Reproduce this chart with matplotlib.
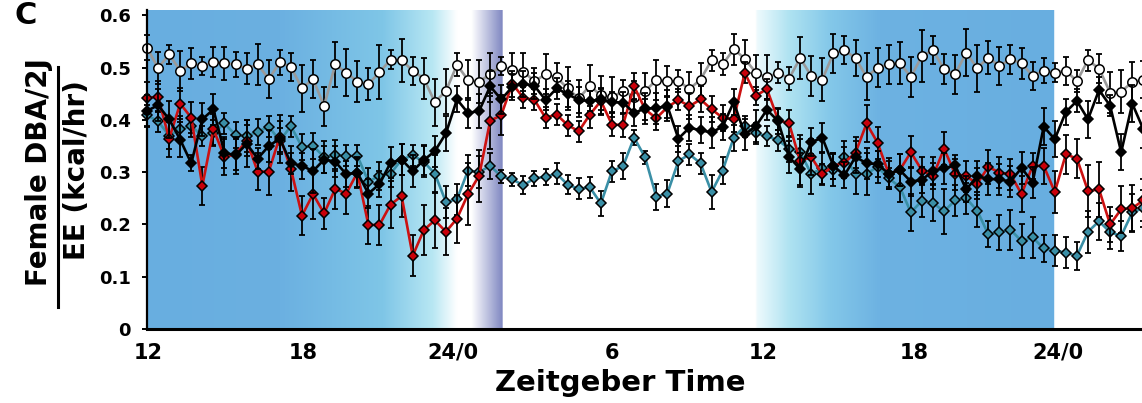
import numpy as np
import matplotlib.pyplot as plt
from matplotlib.colors import to_rgb
from matplotlib.lines import Line2D

plt.rcParams['font.family'] = ['DejaVu Sans']
plt.rcParams['font.weight'] = 'bold'

# mean EE per bin (kcal/hr) and SEM, one entry per time bin
white_mean = [0.538, 0.499, 0.525, 0.494, 0.508, 0.503, 0.510, 0.508, 0.506, 0.498, 0.506, 0.478, 0.510, 0.501, 0.460,
              0.478, 0.426, 0.506, 0.490, 0.473, 0.468, 0.491, 0.515, 0.514, 0.494, 0.479, 0.434, 0.455, 0.505, 0.476,
              0.473, 0.487, 0.503, 0.495, 0.492, 0.474, 0.487, 0.481, 0.460, 0.441, 0.465, 0.447, 0.443, 0.455,
              0.444, 0.455, 0.476, 0.474, 0.474, 0.459, 0.477, 0.514, 0.506, 0.535, 0.517, 0.490, 0.481, 0.490, 0.479,
              0.518, 0.484, 0.477, 0.527, 0.533, 0.518, 0.482, 0.500, 0.506, 0.509, 0.482, 0.522, 0.533, 0.497,
              0.487, 0.528, 0.499, 0.519, 0.503, 0.516, 0.508, 0.484, 0.494, 0.490, 0.494, 0.474, 0.514, 0.498,
              0.452, 0.454, 0.472, 0.477]
white_sem = [0.024, 0.031, 0.019, 0.038, 0.029, 0.018, 0.029, 0.031, 0.024, 0.029, 0.039, 0.036, 0.024, 0.026, 0.045,
             0.037, 0.037, 0.043, 0.045, 0.039, 0.031, 0.052, 0.018, 0.041, 0.027, 0.039, 0.045, 0.043, 0.022, 0.038,
             0.041, 0.041, 0.018, 0.033, 0.036, 0.025, 0.038, 0.027, 0.041, 0.035, 0.039, 0.037, 0.038, 0.022,
             0.030, 0.035, 0.039, 0.029, 0.021, 0.032, 0.031, 0.020, 0.021, 0.030, 0.035, 0.033, 0.043, 0.020, 0.022,
             0.040, 0.038, 0.041, 0.038, 0.027, 0.035, 0.045, 0.038, 0.037, 0.040, 0.039, 0.050, 0.027, 0.029,
             0.037, 0.045, 0.045, 0.031, 0.036, 0.028, 0.029, 0.027, 0.024, 0.018, 0.027, 0.021, 0.020, 0.027,
             0.039, 0.041, 0.038, 0.035]

black_mean = [0.417, 0.428, 0.401, 0.362, 0.317, 0.401, 0.420, 0.337, 0.332, 0.354, 0.326, 0.350, 0.364, 0.317, 0.312,
              0.302, 0.324, 0.320, 0.296, 0.299, 0.259, 0.277, 0.318, 0.324, 0.302, 0.323, 0.340, 0.374, 0.439, 0.413,
              0.417, 0.464, 0.439, 0.463, 0.469, 0.465, 0.438, 0.460, 0.449, 0.438, 0.436, 0.439, 0.434, 0.433,
              0.413, 0.422, 0.422, 0.427, 0.364, 0.385, 0.380, 0.376, 0.387, 0.434, 0.372, 0.388, 0.419, 0.398, 0.329,
              0.306, 0.357, 0.366, 0.312, 0.294, 0.329, 0.317, 0.315, 0.297, 0.304, 0.282, 0.285, 0.303, 0.307,
              0.313, 0.267, 0.292, 0.287, 0.286, 0.282, 0.308, 0.280, 0.387, 0.363, 0.415, 0.436, 0.401, 0.457,
              0.427, 0.338, 0.431, 0.382]
black_sem = [0.030, 0.030, 0.035, 0.033, 0.015, 0.032, 0.030, 0.030, 0.035, 0.045, 0.020, 0.030, 0.046, 0.020, 0.025,
             0.042, 0.025, 0.030, 0.025, 0.028, 0.027, 0.025, 0.030, 0.030, 0.030, 0.028, 0.030, 0.033, 0.025, 0.028,
             0.032, 0.030, 0.028, 0.025, 0.025, 0.025, 0.020, 0.020, 0.025, 0.025, 0.020, 0.020, 0.020, 0.020,
             0.025, 0.030, 0.030, 0.030, 0.025, 0.025, 0.025, 0.029, 0.025, 0.025, 0.030, 0.030, 0.020, 0.025, 0.030,
             0.030, 0.027, 0.027, 0.025, 0.025, 0.030, 0.030, 0.025, 0.030, 0.030, 0.028, 0.025, 0.025, 0.030,
             0.020, 0.025, 0.030, 0.030, 0.030, 0.030, 0.030, 0.030, 0.035, 0.035, 0.025, 0.022, 0.035, 0.025,
             0.020, 0.034, 0.035, 0.035]

red_mean = [0.442, 0.444, 0.364, 0.431, 0.404, 0.274, 0.382, 0.329, 0.334, 0.360, 0.301, 0.301, 0.368, 0.306, 0.217,
            0.258, 0.221, 0.268, 0.259, 0.299, 0.199, 0.199, 0.238, 0.254, 0.140, 0.189, 0.208, 0.186, 0.211, 0.258,
            0.293, 0.398, 0.409, 0.469, 0.442, 0.438, 0.404, 0.410, 0.390, 0.378, 0.410, 0.436, 0.391, 0.390,
            0.464, 0.420, 0.403, 0.424, 0.438, 0.426, 0.439, 0.420, 0.404, 0.401, 0.490, 0.446, 0.459, 0.400, 0.393,
            0.321, 0.329, 0.296, 0.312, 0.318, 0.337, 0.393, 0.356, 0.297, 0.304, 0.338, 0.303, 0.292, 0.345,
            0.296, 0.292, 0.278, 0.310, 0.299, 0.296, 0.258, 0.312, 0.312, 0.262, 0.334, 0.326, 0.264, 0.267,
            0.200, 0.229, 0.231, 0.246]
red_sem = [0.030, 0.030, 0.036, 0.030, 0.030, 0.036, 0.030, 0.035, 0.030, 0.030, 0.036, 0.044, 0.030, 0.043, 0.037,
           0.047, 0.030, 0.038, 0.039, 0.030, 0.037, 0.038, 0.045, 0.040, 0.039, 0.048, 0.053, 0.045, 0.046, 0.060,
           0.050, 0.053, 0.038, 0.025, 0.020, 0.020, 0.020, 0.020, 0.020, 0.020, 0.025, 0.025, 0.022, 0.022,
           0.025, 0.020, 0.023, 0.020, 0.020, 0.025, 0.025, 0.025, 0.025, 0.025, 0.020, 0.017, 0.020, 0.020, 0.025,
           0.050, 0.035, 0.020, 0.025, 0.030, 0.030, 0.035, 0.030, 0.025, 0.030, 0.031, 0.025, 0.025, 0.032,
           0.030, 0.030, 0.030, 0.032, 0.030, 0.030, 0.035, 0.025, 0.035, 0.040, 0.037, 0.038, 0.050, 0.053,
           0.034, 0.045, 0.045, 0.040]

teal_mean = [0.409, 0.397, 0.370, 0.382, 0.388, 0.369, 0.375, 0.393, 0.371, 0.369, 0.377, 0.387, 0.360, 0.388, 0.348,
             0.350, 0.329, 0.332, 0.331, 0.331, 0.282, 0.293, 0.297, 0.324, 0.332, 0.320, 0.297, 0.243, 0.248, 0.303,
             0.300, 0.312, 0.292, 0.286, 0.275, 0.288, 0.291, 0.297, 0.276, 0.268, 0.271, 0.240, 0.302, 0.311,
             0.366, 0.328, 0.253, 0.259, 0.321, 0.334, 0.317, 0.262, 0.303, 0.366, 0.388, 0.374, 0.369, 0.361, 0.345,
             0.338, 0.297, 0.307, 0.304, 0.329, 0.297, 0.297, 0.310, 0.288, 0.272, 0.223, 0.245, 0.241, 0.225,
             0.246, 0.250, 0.226, 0.181, 0.185, 0.190, 0.168, 0.175, 0.154, 0.150, 0.146, 0.140, 0.186, 0.206,
             0.185, 0.178, 0.223, 0.231]
teal_sem = [0.020, 0.020, 0.025, 0.025, 0.020, 0.020, 0.025, 0.020, 0.025, 0.030, 0.025, 0.020, 0.025, 0.020, 0.025,
            0.025, 0.030, 0.030, 0.020, 0.020, 0.025, 0.027, 0.025, 0.030, 0.020, 0.030, 0.035, 0.030, 0.030, 0.030,
            0.030, 0.025, 0.012, 0.012, 0.017, 0.015, 0.015, 0.020, 0.018, 0.020, 0.020, 0.023, 0.020, 0.025,
            0.015, 0.012, 0.025, 0.025, 0.028, 0.020, 0.020, 0.033, 0.026, 0.025, 0.020, 0.020, 0.020, 0.020, 0.025,
            0.025, 0.038, 0.030, 0.030, 0.030, 0.038, 0.040, 0.030, 0.020, 0.030, 0.035, 0.030, 0.035, 0.043,
            0.030, 0.030, 0.030, 0.025, 0.033, 0.038, 0.033, 0.040, 0.025, 0.030, 0.030, 0.027, 0.040, 0.035,
            0.032, 0.028, 0.035, 0.035]

tick_pos = [0.1, 14.1, 27.6, 42.0, 55.7, 69.3, 82.3]
tick_labels = ['12', '18', '24/0', '6', '12', '18', '24/0']

# light/dark shading along the bin axis: (bin, colour)
shade_stops = [(0.0, '#68aee0'), (12.0, '#6bb0e1'), (21.3, '#7fc6e7'), (25.8, '#b8e7f3'), (28.0, '#ffffff'),
               (29.3, '#ffffff'), (32.1, '#8088c2'), (32.11, '#ffffff'),
               (55.0, '#ffffff'), (55.1, '#eefafd'), (58.1, '#aee2f1'), (61.7, '#84c8e9'), (66.2, '#6db2e2'),
               (82.0, '#68aee0'), (82.01, '#ffffff'), (90.0, '#ffffff')]

x = np.arange(len(white_mean))
x_max = 89.88
y_max = 0.61

fig = plt.figure(figsize=(11.42, 4.03), dpi=100)
ax = fig.add_axes([147 / 1142, 74 / 403, 995 / 1142, 319 / 403])

# background gradient
grid = np.linspace(0, x_max, 1200)
stop_x = [s[0] for s in shade_stops]
stop_rgb = np.array([to_rgb(s[1]) for s in shade_stops])
band = np.stack([np.interp(grid, stop_x, stop_rgb[:, k]) for k in range(3)], axis=-1)
ax.imshow(band[np.newaxis, :, :], extent=[0, x_max, 0, y_max], aspect='auto', zorder=0,
          interpolation='bilinear')

series = [
    (white_mean, white_sem, 'o', 'white', '#9a9a9a', 6.8, 2),
    (teal_mean, teal_sem, 'D', '#3a8fa6', '#3a8fa6', 5.4, 3),
    (red_mean, red_sem, 'D', '#c8000a', '#cc1111', 5.4, 4),
    (black_mean, black_sem, 'D', 'black', 'black', 5.4, 5),
]
for mean, sem, marker, face, line_color, msize, z in series:
    ax.errorbar(x, mean, yerr=sem, fmt='none', ecolor='black', elinewidth=1.3,
                capsize=2.2, capthick=1.3, zorder=z, clip_on=False)
    ax.plot(x, mean, color=line_color, lw=1.9, marker=marker, ms=msize, mfc=face,
            mec='black', mew=1.1, zorder=z + 0.1, clip_on=False)

ax.set_xlim(0, x_max)
ax.set_ylim(0, y_max)
for side in ('top', 'right'):
    ax.spines[side].set_visible(False)
ax.spines['left'].set_linewidth(1.6)
ax.spines['bottom'].set_linewidth(2.2)
ax.spines['left'].set_zorder(6)
ax.spines['bottom'].set_zorder(6)

ax.set_yticks([0, 0.1, 0.2, 0.3, 0.4, 0.5, 0.6])
ax.set_yticklabels(['0', '0.1', '0.2', '0.3', '0.4', '0.5', '0.6'])
ax.tick_params(axis='y', direction='out', length=3.5, width=1.4, pad=8, labelsize=13)
ax.set_xticks(tick_pos)
ax.set_xticklabels(tick_labels)
ax.tick_params(axis='x', length=0, pad=10, labelsize=15)

fig.text(620 / 1142, 1 - 383 / 403, 'Zeitgeber Time', ha='center', va='center', fontsize=21,
         fontweight='bold')
fig.text(39 / 1142, 1 - 172 / 403, 'Female DBA/2J', rotation=90, ha='center', va='center',
         fontsize=20, fontweight='bold')
fig.text(77 / 1142, 1 - 170 / 403, 'EE (kcal/hr)', rotation=90, ha='center', va='center',
         fontsize=20, fontweight='bold')
fig.add_artist(Line2D([58 / 1142, 58 / 1142], [1 - 67 / 403, 1 - 307 / 403], color='black', lw=2.2))
# panel letter
fig.text(26 / 1142, 1 - 24 / 403, 'C', ha='center', va='baseline', fontsize=22, fontweight='bold')

fig.savefig('out.png', dpi=100)
